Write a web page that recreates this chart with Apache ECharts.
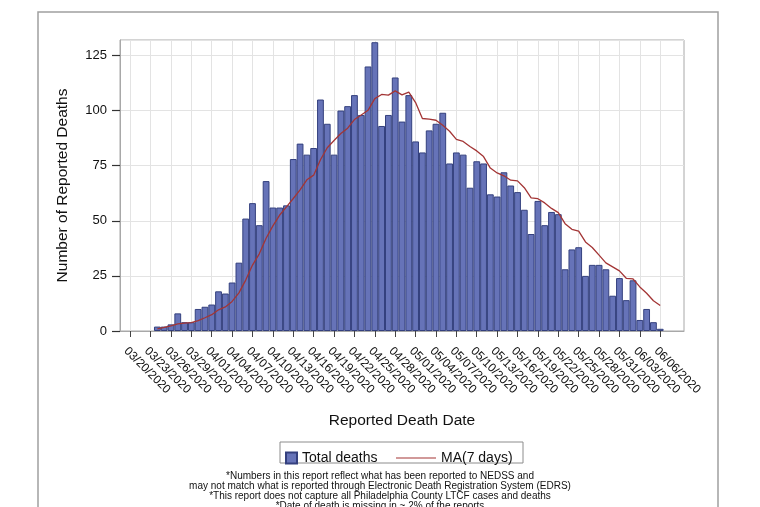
<!DOCTYPE html>
<html>
<head>
<meta charset="utf-8">
<script src="https://cdn.jsdelivr.net/npm/echarts@6/dist/echarts.min.js"></script>
<style>
html,body{margin:0;padding:0;background:#fff;}
#chart{width:760px;height:507px;}
</style>
</head>
<body>
<div id="chart"></div>
<script>
// Categories: one per day
const dates = [
'03/19/2020','03/20/2020','03/21/2020','03/22/2020','03/23/2020','03/24/2020','03/25/2020','03/26/2020','03/27/2020','03/28/2020','03/29/2020','03/30/2020','03/31/2020',
'04/01/2020','04/02/2020','04/03/2020','04/04/2020','04/05/2020','04/06/2020','04/07/2020','04/08/2020','04/09/2020','04/10/2020',
'04/11/2020','04/12/2020','04/13/2020','04/14/2020','04/15/2020','04/16/2020','04/17/2020','04/18/2020','04/19/2020','04/20/2020',
'04/21/2020','04/22/2020','04/23/2020','04/24/2020','04/25/2020','04/26/2020','04/27/2020','04/28/2020','04/29/2020','04/30/2020',
'05/01/2020','05/02/2020','05/03/2020','05/04/2020','05/05/2020','05/06/2020','05/07/2020','05/08/2020','05/09/2020','05/10/2020',
'05/11/2020','05/12/2020','05/13/2020','05/14/2020','05/15/2020','05/16/2020','05/17/2020','05/18/2020','05/19/2020','05/20/2020',
'05/21/2020','05/22/2020','05/23/2020','05/24/2020','05/25/2020','05/26/2020','05/27/2020','05/28/2020','05/29/2020','05/30/2020','05/31/2020',
'06/01/2020','06/02/2020','06/03/2020','06/04/2020','06/05/2020','06/06/2020','06/07/2020','06/08/2020','06/09/2020'
];

// Total deaths per day (null = no bar)
const deaths = [
null,null,null,null,null,2,2,3,8,4,4,10,11,
12,18,17,22,31,51,58,48,68,56,
56,57,78,85,80,83,105,94,80,100,
102,107,98,120,131,93,98,115,95,107,
86,81,91,94,99,76,81,80,65,77,
76,62,61,72,66,63,55,44,59,48,
54,53,28,37,38,25,30,30,28,16,24,
14,23,5,10,4,1,null,null,null
];

// 7-day moving average
const ma7 = [
null,null,null,null,null,1.0,1.6,2.3,3.2,3.6,3.8,4.7,6.0,
7.4,9.6,10.9,13.4,17.3,23.1,29.9,35.0,42.1,47.7,
52.6,56.3,60.1,64.0,68.6,70.7,77.7,83.1,86.4,89.6,
92.0,95.9,98.0,100.1,105.4,107.3,107.0,108.9,107.1,108.4,
103.6,96.4,96.1,95.6,93.3,90.6,86.9,86.0,83.7,81.7,
79.1,73.9,71.7,70.4,68.4,68.1,65.0,60.4,60.0,58.1,
55.6,53.7,48.7,46.1,45.3,40.4,37.9,34.4,30.9,29.1,27.3,
23.9,23.6,20.0,17.1,13.7,11.6,null,null,null
];

// Tick labels shown on the date axis
const tickLabels = [
'03/20/2020','03/23/2020','03/26/2020','03/29/2020','04/01/2020','04/04/2020','04/07/2020','04/10/2020',
'04/13/2020','04/16/2020','04/19/2020','04/22/2020','04/25/2020','04/28/2020','05/01/2020','05/04/2020',
'05/07/2020','05/10/2020','05/13/2020','05/16/2020','05/19/2020','05/22/2020','05/25/2020','05/28/2020',
'05/31/2020','06/03/2020','06/06/2020'
];
// Value-axis ticks: 0..125 step 25; axis extends to 132
const yTickMax = 125;
const yTickStep = 25;
const yAxisMax = 132;

const footnotes = [
'*Numbers in this report reflect what has been reported to NEDSS and',
'may not match what is reported through Electronic Death Registration System (EDRS)',
'*This report does not capture all Philadelphia County LTCF cases and deaths',
'*Date of death is missing in ~ 2% of the reports'
];

const FONT = "'Liberation Sans', Arial, sans-serif";
const isTick = function (idx, val) { return tickLabels.indexOf(dates[idx]) >= 0; };

// plot geometry
const gTop = 40, gBottom = 176, gLeft = 120, gRight = 76;
const plotH = 507 - gTop - gBottom;
// second grid carries the tick marks/labels up to 125 exactly
const tickGridTop = gTop + plotH * (yAxisMax - yTickMax) / yAxisMax;

const chart = echarts.init(document.getElementById('chart'), null, {renderer: 'canvas'});
chart.setOption({
  animation: false,
  backgroundColor: '#ffffff',
  textStyle: {fontFamily: FONT},
  grid: [
    {left: gLeft, right: gRight, top: gTop, bottom: gBottom, show: true, borderColor: '#a8a8a8', borderWidth: 1, backgroundColor: 'transparent'},
    {left: gLeft, right: gRight, top: tickGridTop, bottom: gBottom, show: false}
  ],
  legend: [
    {
      data: [{name: 'Total deaths', icon: 'rect'}],
      left: 280, top: 446, itemWidth: 11, itemHeight: 11, itemGap: 0,
      textStyle: {fontFamily: FONT, fontSize: 14, color: '#111'},
      selectedMode: false
    },
    {
      data: [{name: 'MA(7 days)', icon: 'path://M0,0 L40,0 L40,1 L0,1 Z'}],
      left: 391, top: 446, itemWidth: 40, itemHeight: 11,
      textStyle: {fontFamily: FONT, fontSize: 14, color: '#111'},
      selectedMode: false
    }
  ],
  xAxis: [
    {
      type: 'category',
      gridIndex: 0,
      data: dates,
      boundaryGap: true,
      name: 'Reported Death Date',
      nameLocation: 'middle',
      nameGap: 82,
      nameTextStyle: {fontFamily: FONT, fontSize: 15.5, color: '#111'},
      axisLine: {show: true, lineStyle: {color: '#a8a8a8', width: 1}},
      axisTick: {show: true, interval: isTick, alignWithLabel: true, length: 6, lineStyle: {color: '#444'}},
      axisLabel: {interval: isTick, rotate: -45, verticalAlign: 'top', fontFamily: FONT, fontSize: 12, color: '#111', margin: 14},
      splitLine: {show: true, interval: isTick, alignWithLabel: true, lineStyle: {color: '#e3e3e3', width: 1}}
    },
    {
      type: 'value', gridIndex: 1, min: 0, max: 1, show: false
    }
  ],
  yAxis: [
    {
      type: 'value',
      gridIndex: 0,
      min: 0, max: yAxisMax, interval: yTickStep,
      name: 'Number of Reported Deaths',
      nameLocation: 'middle',
      nameGap: 49,
      nameRotate: 90,
      nameTextStyle: {fontFamily: FONT, fontSize: 15.5, color: '#111'},
      axisLine: {show: true, lineStyle: {color: '#a8a8a8'}},
      axisTick: {show: false},
      axisLabel: {show: false},
      splitLine: {show: true, lineStyle: {color: '#e3e3e3', width: 1}}
    },
    {
      type: 'value',
      gridIndex: 1,
      min: 0, max: yTickMax, interval: yTickStep,
      axisLine: {show: true, lineStyle: {color: '#a8a8a8', width: 1}},
      axisTick: {show: true, length: 8, lineStyle: {color: '#333', width: 1.2}},
      axisLabel: {fontFamily: FONT, fontSize: 13, color: '#111', margin: 13},
      splitLine: {show: false}
    }
  ],
  series: [
    {
      name: 'Total deaths',
      type: 'bar',
      xAxisIndex: 0, yAxisIndex: 0,
      data: deaths,
      barCategoryGap: '0%',
      itemStyle: {color: '#6673b8', borderColor: '#34407e', borderWidth: 1},
      z: 2
    },
    {
      name: 'MA(7 days)',
      type: 'line',
      xAxisIndex: 0, yAxisIndex: 0,
      data: ma7,
      showSymbol: false,
      symbol: 'none',
      smooth: false,
      connectNulls: false,
      lineStyle: {color: '#a33535', width: 1.3},
      itemStyle: {color: '#a33535'},
      z: 3
    }
  ],
  graphic: [
    {type: 'rect', silent: true, z: -1, shape: {x: 38, y: 12, width: 680, height: 600},
     style: {fill: 'none', stroke: '#a0a0a0', lineWidth: 1.5}},
    {type: 'rect', silent: true, shape: {x: 280, y: 442, width: 243, height: 21},
     style: {fill: 'none', stroke: '#8c8c8c', lineWidth: 1}},
    {type: 'text', silent: true, left: 'center', top: 471,
     style: {text: footnotes.join('\n'), fontFamily: FONT, fontSize: 10, lineHeight: 10, fill: '#111', textAlign: 'center'}}
  ]
});
</script>
</body>
</html>
